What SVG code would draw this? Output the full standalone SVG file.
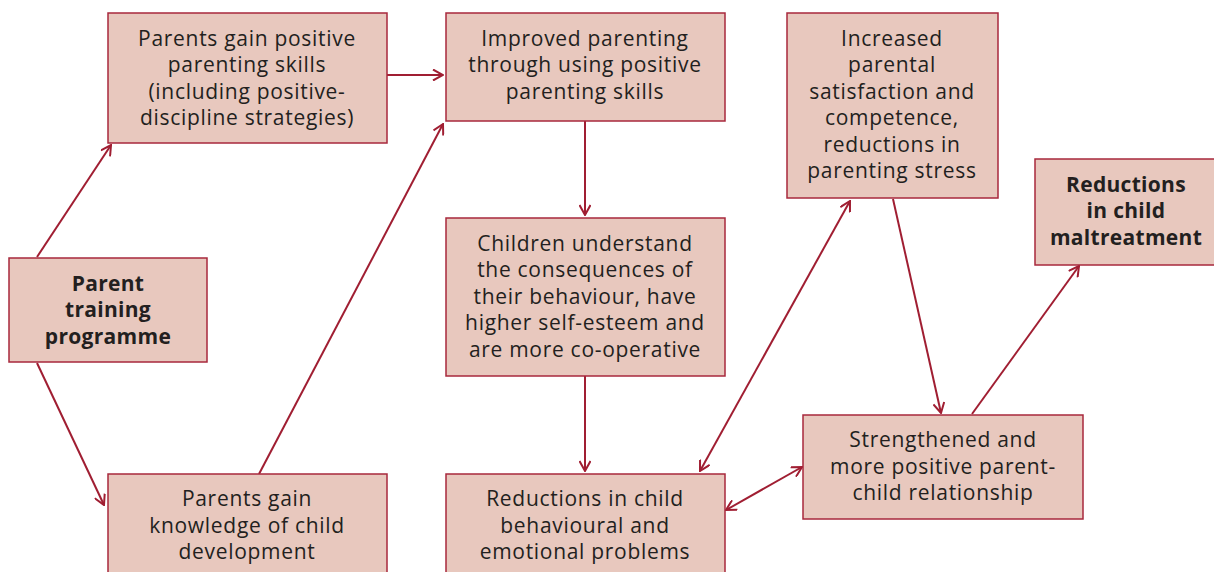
<svg xmlns="http://www.w3.org/2000/svg" width="1214" height="572" viewBox="0 0 1214 572">
<style>
.box{fill:#e8c8be;stroke:#a8283c;stroke-width:1.5}
.t{font-family:"Open Sans","Noto Sans",sans-serif;font-size:21px;letter-spacing:0.7px;fill:#231f20;text-anchor:middle;dominant-baseline:central}
.b{font-weight:bold;letter-spacing:0.3px}
.c{fill:none;stroke:#a01e32;stroke-width:2}
</style>
<defs>
<marker id="ah" viewBox="0 0 12 12" refX="11" refY="6" markerWidth="12" markerHeight="12" markerUnits="userSpaceOnUse" orient="auto-start-reverse">
<path d="M1,0.5 L11,6 L1,11.5" fill="none" stroke="#a01e32" stroke-width="2"/>
</marker>
</defs>
<rect width="1214" height="572" fill="#ffffff"/>
<g id="connectors">
<line class="c" x1="37" y1="257" x2="111" y2="145" marker-end="url(#ah)"/>
<line class="c" x1="37" y1="363" x2="104" y2="505" marker-end="url(#ah)"/>
<line class="c" x1="387" y1="75" x2="443" y2="75" marker-end="url(#ah)"/>
<line class="c" x1="259" y1="474" x2="443" y2="124" marker-end="url(#ah)"/>
<line class="c" x1="585" y1="121" x2="585" y2="215" marker-end="url(#ah)"/>
<line class="c" x1="585" y1="376" x2="585" y2="471" marker-end="url(#ah)"/>
<line class="c" x1="700" y1="471" x2="850" y2="201" marker-start="url(#ah)" marker-end="url(#ah)"/>
<line class="c" x1="726" y1="510" x2="802" y2="467" marker-start="url(#ah)" marker-end="url(#ah)"/>
<line class="c" x1="893" y1="199" x2="941" y2="413" marker-end="url(#ah)"/>
<line class="c" x1="972" y1="414" x2="1079" y2="266" marker-end="url(#ah)"/>
</g>
<g id="n1"><rect class="box" x="9" y="258" width="198" height="104"/>
<text class="t b" x="108" y="283">Parent</text><text class="t b" x="108" y="309">training</text><text class="t b" x="108" y="336">programme</text></g>
<g id="n2"><rect class="box" x="108" y="13" width="279" height="130"/>
<text class="t" x="247" y="38">Parents gain positive</text><text class="t" x="247" y="64">parenting skills</text><text class="t" x="247" y="91">(including positive-</text><text class="t" x="247" y="117">discipline strategies)</text></g>
<g id="n3"><rect class="box" x="446" y="13" width="279" height="108"/>
<text class="t" x="585" y="38">Improved parenting</text><text class="t" x="585" y="64">through using positive</text><text class="t" x="585" y="91">parenting skills</text></g>
<g id="n4"><rect class="box" x="787" y="13" width="211" height="185"/>
<text class="t" x="892" y="38">Increased</text><text class="t" x="892" y="64">parental</text><text class="t" x="892" y="91">satisfaction and</text><text class="t" x="892" y="117">competence,</text><text class="t" x="892" y="144">reductions in</text><text class="t" x="892" y="170">parenting stress</text></g>
<g id="n5"><rect class="box" x="1035" y="159" width="182" height="106"/>
<text class="t b" x="1126" y="184">Reductions</text><text class="t b" x="1126" y="210">in child</text><text class="t b" x="1126" y="237">maltreatment</text></g>
<g id="n6"><rect class="box" x="446" y="218" width="279" height="158"/>
<text class="t" x="585" y="243">Children understand</text><text class="t" x="585" y="269">the consequences of</text><text class="t" x="585" y="296">their behaviour, have</text><text class="t" x="585" y="322">higher self-esteem and</text><text class="t" x="585" y="349">are more co-operative</text></g>
<g id="n7"><rect class="box" x="803" y="415" width="280" height="104"/>
<text class="t" x="943" y="439">Strengthened and</text><text class="t" x="943" y="466">more positive parent-</text><text class="t" x="943" y="492">child relationship</text></g>
<g id="n8"><rect class="box" x="446" y="474" width="279" height="110"/>
<text class="t" x="585" y="498">Reductions in child</text><text class="t" x="585" y="525">behavioural and</text><text class="t" x="585" y="551">emotional problems</text></g>
<g id="n9"><rect class="box" x="108" y="474" width="279" height="110"/>
<text class="t" x="247" y="498">Parents gain</text><text class="t" x="247" y="525">knowledge of child</text><text class="t" x="247" y="551">development</text></g>
</svg>
